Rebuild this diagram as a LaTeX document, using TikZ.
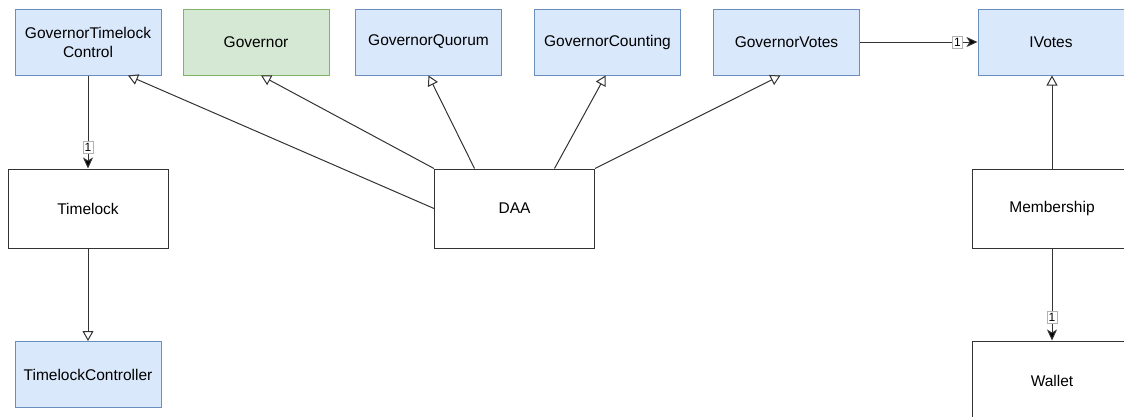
\documentclass[tikz,border=0pt]{standalone}
\usepackage{fontspec}
\setmainfont{Liberation Sans}
\usetikzlibrary{arrows.meta}

\definecolor{ifacefill}{HTML}{DAE8FC}
\definecolor{ifacedraw}{HTML}{6C8EBF}
\definecolor{basefill}{HTML}{D5E8D4}
\definecolor{basedraw}{HTML}{82B366}
\definecolor{wire}{HTML}{333333}

\tikzstyle{iface}=[
    rectangle,
    line width=1pt,
    minimum width=146pt,
    minimum height=66pt,
    align=center,
    draw=ifacedraw,
    fill=ifacefill
]
\tikzstyle{base}=[
    rectangle,
    line width=1pt,
    minimum width=146pt,
    minimum height=66pt,
    draw=basedraw,
    fill=basefill
]
\tikzstyle{impl}=[
    rectangle,
    line width=1pt,
    minimum width=160pt,
    minimum height=79pt,
    draw=wire,
    fill=white
]
\tikzstyle{mult}=[
    rectangle,
    line width=0.6pt,
    inner xsep=1.5pt,
    inner ysep=2pt,
    draw=gray!60,
    fill=white,
    font=\fontsize{12}{13}\selectfont
]

\begin{document}
\begin{tikzpicture}[x=1pt,y=-1pt,font=\fontsize{15.5}{19}\selectfont,
    extends/.style={-{Triangle[open,length=10pt,width=11pt]}},
    holds/.style={-{Stealth[length=11pt,width=10pt,inset=3pt]}}]
	\useasboundingbox (0,0) rectangle (1124,416);
	% TOP ROW
	\node (gtc) [iface] at (88,42) {GovernorTimelock\\Control};
	\node (gov) [base] at (256,42) {Governor};
	\node (gq) [iface] at (428.5,42) {GovernorQuorum};
	\node (gc) [iface] at (607.5,42) {GovernorCounting};
	\node (gv) [iface] at (786.5,42) {GovernorVotes};
	\node (ivotes) [iface] at (1051,42) {IVotes};
	% MIDDLE ROW
	\node (timelock) [impl] at (88,208.5) {Timelock};
	\node (daa) [impl] at (514.5,208.5) {DAA};
	\node (membership) [impl] at (1052,208.5) {Membership};
	% BOTTOM ROW
	\node (tlc) [iface] at (88,374.5) {TimelockController};
	\node (wallet) [impl] at (1052,380.5) {Wallet};

	\path[draw=wire,line width=1pt]
	% Associations
	(gtc) edge[holds] node[mult,pos=0.77]{1} (timelock)
	(gv) edge[holds] node[mult,pos=0.83]{1} (ivotes)
	(membership) edge[holds] node[mult,pos=0.75]{1} (wallet)

	% Inheritance
	(timelock) edge[extends] (tlc)
	(membership) edge[extends] ([xshift=1pt]ivotes.south)
	(daa.west) edge[extends] ([xshift=40pt]gtc.south)
	(daa.north west) edge[extends] ([xshift=5pt]gov.south)
	([xshift=-40pt]daa.north) edge[extends] (gq.south)
	([xshift=40pt]daa.north) edge[extends] ([xshift=-2pt]gc.south)
	(daa.north east) edge[extends] ([xshift=-6pt]gv.south)
	;
\end{tikzpicture}
\end{document}
